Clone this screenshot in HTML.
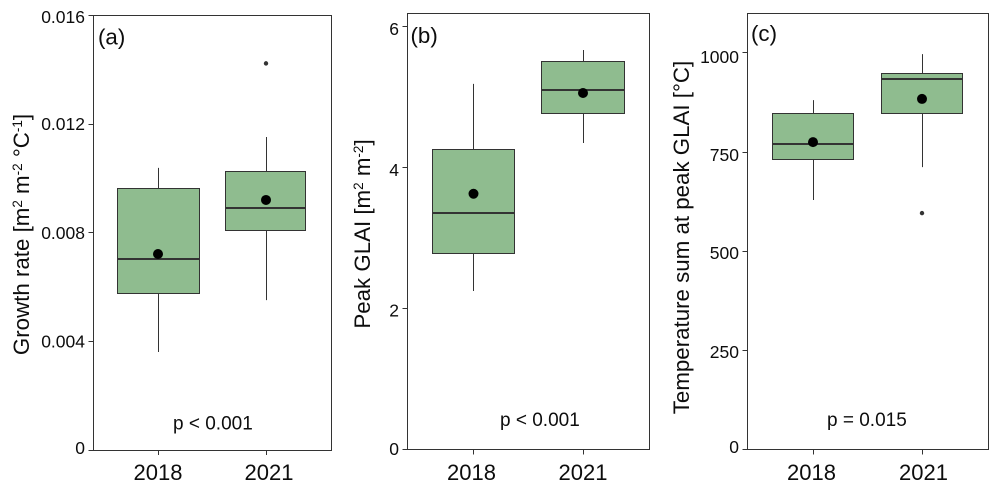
<!DOCTYPE html>
<html>
<head>
<meta charset="utf-8">
<style>
html,body{margin:0;padding:0;background:#fff;}
svg{display:block;font-family:"Liberation Sans",Arial,sans-serif;}
</style>
</head>
<body>
<svg id="fig" width="1000" height="491" viewBox="0 0 1000 491" xmlns="http://www.w3.org/2000/svg"></svg>
<script>
// Data
const categories = ['2018', '2021'];

const growthStats = [
  {lo: 0.00361, q1: 0.00575, med: 0.00705, q3: 0.00963, hi: 0.01039, mean: 0.00722, out: []},
  {lo: 0.00552, q1: 0.00810, med: 0.00893, q3: 0.01026, hi: 0.01153, mean: 0.00921, out: [0.01424]}
];
const growthTicks = [0, 0.004, 0.008, 0.012, 0.016];
const growthTickLabels = ['0', '0.004', '0.008', '0.012', '0.016'];

const glaiStats = [
  {lo: 2.25, q1: 2.78, med: 3.35, q3: 4.26, hi: 5.19, mean: 3.63, out: []},
  {lo: 4.35, q1: 4.77, med: 5.10, q3: 5.51, hi: 5.67, mean: 5.06, out: []}
];
const glaiTicks = [0, 2, 4, 6];
const glaiTickLabels = ['0', '2', '4', '6'];

const tempStats = [
  {lo: 629, q1: 731, med: 770, q3: 847, hi: 881, mean: 775, out: []},
  {lo: 712, q1: 847, med: 934, q3: 948, hi: 997, mean: 884, out: [596]}
];
const tempTicks = [0, 250, 500, 750, 1000];
const tempTickLabels = ['0', '250', '500', '750', '1000'];

// Layout
const panels = [
  {id: 'a', stats: growthStats, ticks: growthTicks, labels: growthTickLabels,
   left: 93.5, right: 331.5, top: 15.5, bottom: 450, y0: 450, yScale: 108.6 / 0.004,
   cx: [158, 266], hw: [41, 40], boxDx: [0, -1], catDx: [0, 3], labelShift: [-2, 0, 0, 0, 1.5],
   tag: '(a)', tagX: 98, tagY: 44.5, p: 'p < 0.001', pX: 173, pY: 429.5,
   titleX: 29, titleY: 234.5,
   title: [['Growth rate [m', 0], ['2', 1], [' m', 0], ['-2', 1], [' °C', 0], ['-1', 1], [']', 0]]},
  {id: 'b', stats: glaiStats, ticks: glaiTicks, labels: glaiTickLabels,
   left: 407.5, right: 649.5, top: 13.5, bottom: 449.5, y0: 449.5, yScale: 70.45,
   cx: [473.5, 583], hw: [41, 41.5], boxDx: [0, 0], catDx: [-2, 0], labelShift: [-0.5, 2, 2.5, 2],
   tag: '(b)', tagX: 410.5, tagY: 43, p: 'p < 0.001', pX: 500, pY: 426,
   titleX: 370, titleY: 234,
   title: [['Peak GLAI [m', 0], ['2', 1], [' m', 0], ['-2', 1], [']', 0]]},
  {id: 'c', stats: tempStats, ticks: tempTicks, labels: tempTickLabels,
   left: 747.5, right: 988.5, top: 13.5, bottom: 449.5, y0: 449.5, yScale: 99.15 / 250,
   cx: [813, 922], hw: [40.5, 40.5], boxDx: [0, 0], catDx: [-1.5, 1.5], labelShift: [-2.5, 1.7, 2, 3, 4],
   tag: '(c)', tagX: 751, tagY: 41, p: 'p = 0.015', pX: 827, pY: 426,
   titleX: 689, titleY: 237.5,
   title: [['Temperature sum at peak GLAI [°C]', 0]]}
];

const NS = 'http://www.w3.org/2000/svg';
const INK = '#333333';
const TEXT = '#0d0d0d';
const svg = document.getElementById('fig');

function make(parent, tag, attrs) {
  const el = document.createElementNS(NS, tag);
  for (const k in attrs) el.setAttribute(k, attrs[k]);
  parent.appendChild(el);
  return el;
}
function crisp(v) { return Math.floor(v) + 0.5; }

panels.forEach(function (p) {
  const yPos = function (v) { return p.y0 - v * p.yScale; };

  const g = make(svg, 'g', {});
  
  

  const frame = make(g, 'rect', {x: p.left, y: p.top, width: p.right - p.left, height: crisp(p.bottom) - p.top, fill: '#fff', stroke: INK, 'stroke-width': 1});
  
  

  p.ticks.forEach(function (t, i) {
    const y = yPos(t);
    const tick = make(g, 'line', {x1: p.left - 5, x2: p.left, y1: crisp(y), y2: crisp(y), stroke: INK, 'stroke-width': 1});
    
    
    const lab = make(g, 'text', {x: p.left - 8.5, y: y + 6 + p.labelShift[i], 'text-anchor': 'end', 'font-size': 17.5, fill: TEXT});
    lab.textContent = p.labels[i];
    
    
  });

  categories.forEach(function (c, i) {
    const cx = crisp(p.cx[i]), hw = p.hw[i], s = p.stats[i];

    const tick = make(g, 'line', {x1: cx, x2: cx, y1: p.bottom, y2: p.bottom + 5, stroke: INK, 'stroke-width': 1});
    
    

    const lab = make(g, 'text', {x: p.cx[i] + p.catDx[i], y: 480, 'text-anchor': 'middle', 'font-size': 22, fill: TEXT});
    lab.textContent = c;
    
    

    const whisker = make(g, 'line', {x1: cx, x2: cx, y1: yPos(s.hi), y2: yPos(s.lo), stroke: INK, 'stroke-width': 1});
    
    

    const boxTop = crisp(yPos(s.q3));
    const boxBottom = crisp(yPos(s.q1));
    const boxLeft = crisp(p.cx[i] + p.boxDx[i] - hw);
    const boxRight = crisp(p.cx[i] + p.boxDx[i] + hw);
    const box = make(g, 'rect', {x: boxLeft, y: boxTop, width: boxRight - boxLeft, height: boxBottom - boxTop, fill: '#8fbc8f', stroke: INK, 'stroke-width': 1});
    
    

    const medY = Math.round(yPos(s.med));
    const med = make(g, 'line', {x1: boxLeft, x2: boxRight, y1: medY, y2: medY, stroke: INK, 'stroke-width': 2});
    
    

    const mean = make(g, 'circle', {cx: p.cx[i], cy: yPos(s.mean), r: 5, fill: '#000'});
    
    

    s.out.forEach(function (v) {
      const o = make(g, 'circle', {cx: p.cx[i], cy: yPos(v), r: 2.2, fill: INK});
      
      
    });
  });

  const tag = make(g, 'text', {x: p.tagX, y: p.tagY, 'font-size': 22.3, fill: TEXT});
  tag.textContent = p.tag;
  
  

  const pv = make(g, 'text', {x: p.pX, y: p.pY, 'font-size': 19, fill: TEXT});
  pv.textContent = p.p;
  
  

  const title = make(g, 'text', {transform: 'translate(' + p.titleX + ' ' + p.titleY + ') rotate(-90)', 'text-anchor': 'middle', 'font-size': 22.3, fill: TEXT});
  
  
  let wasSup = 0;
  p.title.forEach(function (part) {
    const ts = make(title, 'tspan', {});
    const isSup = part[1];
    if (isSup !== wasSup) ts.setAttribute('dy', isSup ? -7 : 7);
    if (isSup) ts.setAttribute('font-size', 13.5);
    ts.textContent = part[0];
    wasSup = isSup;
  });
});
</script>
</body>
</html>
